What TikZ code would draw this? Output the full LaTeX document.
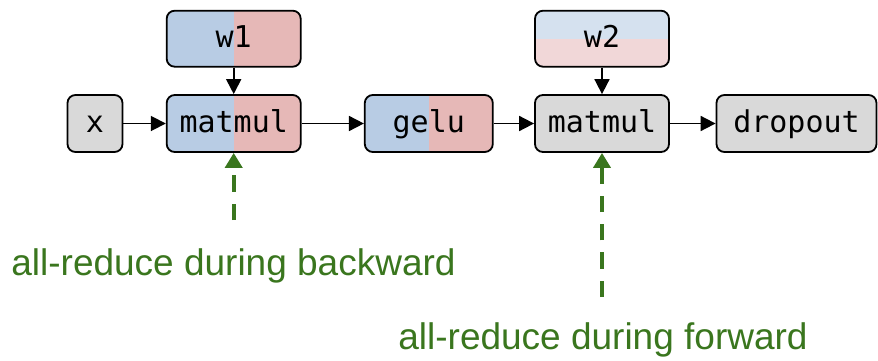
\documentclass[tikz,border=0pt]{standalone}
\usepackage{fontspec}
\setmainfont{Liberation Sans}
\newfontfamily\boxfont{DejaVu Sans Mono}
\usetikzlibrary{arrows.meta}

\definecolor{shardblue}{HTML}{B8CCE4}
\definecolor{shardpink}{HTML}{E6B8B7}
\definecolor{lightblue}{HTML}{D5E1EF}
\definecolor{lightpink}{HTML}{F1D7D8}
\definecolor{opgrey}{HTML}{D9D9D9}
\definecolor{reducegreen}{HTML}{3A761E}

\tikzset{
  opbox/.style={draw=black, line width=1.8pt, rounded corners=8pt,
    minimum height=57pt, inner sep=0pt,
    font=\boxfont\fontsize{30}{30}\selectfont,
    text height=22pt, text depth=4pt},
  greybox/.style={opbox, fill=opgrey},
  % left half blue, right half pink
  splitcols/.style={opbox, path picture={
    \fill[shardpink, sharp corners] (path picture bounding box.south west) rectangle (path picture bounding box.north east);
    \fill[shardblue, sharp corners] (path picture bounding box.south west) rectangle (path picture bounding box.north);}},
  % upper half blue, lower half pink
  splitrows/.style={opbox, path picture={
    \fill[lightpink, sharp corners] (path picture bounding box.south west) rectangle (path picture bounding box.north east);
    \fill[lightblue, sharp corners] (path picture bounding box.west) rectangle (path picture bounding box.north east);}},
  flow/.style={line width=1.8pt, -{Triangle[length=15pt,width=15pt]}},
  reduce/.style={draw=reducegreen, line width=4pt, dash pattern=on 16.5pt off 11.8pt,
    -{Triangle[length=15pt,width=17pt]}, color=reducegreen},
  note/.style={text=reducegreen, font=\fontsize{37}{37}\selectfont, inner sep=0pt}
}

\begin{document}
\begin{tikzpicture}[x=1pt, y=-1pt]
  \useasboundingbox (0,0) rectangle (878,361);

  % operators along the forward path
  \node[greybox, minimum width=55pt] (x) at (95,123.5) {x};
  \node[splitcols, minimum width=134pt] (mm1) at (233.7,123.5) {matmul};
  \node[splitcols, minimum width=134pt, minimum height=56pt] (w1) at (233.7,38.7) {w1};
  \node[splitcols, minimum width=128pt] (gelu) at (428.8,123.5) {gelu};
  \node[greybox, minimum width=134pt] (mm2) at (602,123.5) {matmul};
  \node[splitrows, minimum width=134pt, minimum height=56pt] (w2) at (602,38.7) {w2};
  \node[greybox, minimum width=160pt] (drop) at (796.5,123.5) {dropout};

  % data flow
  \draw[flow] (x) -- (mm1);
  \draw[flow] (w1) -- (mm1);
  \draw[flow] (mm1) -- (gelu);
  \draw[flow] (gelu) -- (mm2);
  \draw[flow] (w2) -- (mm2);
  \draw[flow] (mm2) -- (drop);

  % communication points
  \coordinate (bwd) at (233.7,220);
  \coordinate (fwd) at (602,297);
  \draw[reduce] (bwd) -- (mm1.south);
  \draw[reduce] (fwd) -- (mm2.south);
  \node[note] (bwdlabel) at (233.5,266) {all-reduce during backward};
  \node[note] (fwdlabel) at (603,340) {all-reduce during forward};
\end{tikzpicture}
\end{document}
